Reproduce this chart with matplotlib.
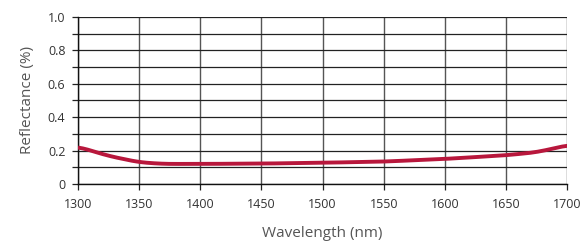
import matplotlib
matplotlib.use('Agg')
import matplotlib.pyplot as plt
import numpy as np

# reflectance curve
wavelength = [1300, 1325, 1350, 1370, 1400, 1450, 1500, 1550, 1600, 1650, 1675, 1700]
reflectance = [0.223, 0.168, 0.13, 0.12, 0.12, 0.122, 0.127, 0.134, 0.15, 0.172, 0.19, 0.232]

xticks = [1300, 1350, 1400, 1450, 1500, 1550, 1600, 1650, 1700]
yticks = [0, 0.1, 0.2, 0.3, 0.4, 0.5, 0.6, 0.7, 0.8, 0.9, 1.0]
ytick_labels = ['0', '', '0.2', '', '0.4', '', '0.6', '', '0.8', '', '1.0']

plt.rcParams['font.family'] = ['Open Sans', 'DejaVu Sans']

fig = plt.figure(figsize=(5.86, 2.43), dpi=100)
ax = fig.add_axes([0.133, 0.243, 0.835, 0.687])

# smooth the read points a little for drawing
xs = np.linspace(1300, 1700, 200)
ys = np.interp(xs, wavelength, reflectance)
k = np.ones(9) / 9.
ys_s = np.convolve(np.pad(ys, 4, mode='edge'), k, mode='valid')
ax.plot(xs, ys_s, color='#b8173c', lw=2.8, solid_capstyle='butt', zorder=3)

ax.set_xlim(1300, 1700)
ax.set_ylim(0, 1.0)
ax.set_xticks(xticks)
ax.set_yticks(yticks)
ax.set_yticklabels(ytick_labels)

ax.grid(True, axis='y', color='#222222', lw=0.9)
ax.grid(True, axis='x', color='#555555', lw=1.0)
for s in ['top', 'right']:
    ax.spines[s].set_visible(False)
for s in ['left', 'bottom']:
    ax.spines[s].set_color('#111111')
    ax.spines[s].set_linewidth(1.0)

ax.tick_params(axis='both', direction='out', length=4, width=0.9,
               color='#222222', labelsize=9, labelcolor='#333333')
ax.tick_params(axis='x', pad=6)
ax.tick_params(axis='y', pad=5)

ax.set_xlabel('Wavelength (nm)', fontsize=11, color='#555555', labelpad=11)
ax.set_ylabel('Reflectance (%)', fontsize=11, color='#555555', labelpad=9)

fig.savefig('out.png', dpi=100)
